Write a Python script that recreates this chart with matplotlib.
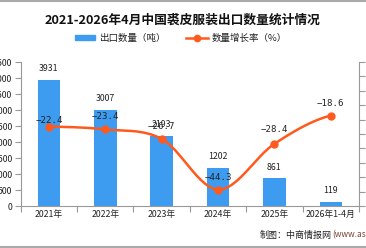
import numpy as np
import matplotlib
matplotlib.use("Agg")
import matplotlib.pyplot as plt
from matplotlib.patches import Rectangle
from matplotlib.lines import Line2D

plt.rcParams['font.family'] = ['Noto Sans CJK SC', 'DejaVu Sans']

categories = ["2021年", "2022年", "2023年", "2024年", "2025年", "2026年1-4月"]
export_qty = [3931, 3007, 2193, 1202, 861, 119]
growth_rate = [-22.4, -23.4, -26.7, -44.3, -28.4, -18.6]
title = "2021-2026年4月中国裘皮服装出口数量统计情况"
legend_bar = "出口数量（吨）"
legend_line = "数量增长率（%）"
source_a = "制图：中商情报网"
source_b = "(www.askci.com)"

W, H = 366, 248
fig = plt.figure(figsize=(W / 100, H / 100), dpi=100)

BAR_C = '#3d9cf0'
LINE_C = '#ff5a1e'
AX_C = '#999999'
TXT_C = '#222222'

ax = fig.add_axes([20.7 / W, (H - 206) / H, 338.3 / W, 144 / H])
x = np.arange(len(categories))
ax.bar(x, export_qty, width=0.4, color=BAR_C, zorder=2)
ax.set_xlim(-0.5, len(categories) - 0.5)
ax.set_ylim(0, 4500)
ax.set_yticks(np.arange(0, 4501, 500))
ax.set_xticks(np.arange(-0.5, len(categories), 1.0))
ax.set_xticklabels([])
ax.set_xticks(x, minor=True)
ax.set_xticklabels(categories, minor=True, fontsize=6.3, color=TXT_C)
ax.tick_params(axis='x', which='major', length=4, direction='out', color=AX_C)
ax.tick_params(axis='x', which='minor', length=0, pad=3)
ax.tick_params(axis='y', length=4, color=AX_C, labelsize=6.3, labelcolor=TXT_C, pad=2)
for s in ['top', 'right']:
    ax.spines[s].set_visible(False)
for s in ['left', 'bottom']:
    ax.spines[s].set_color(AX_C)
    ax.spines[s].set_linewidth(0.8)

for xi, v in zip(x, export_qty):
    ax.annotate(str(v), (xi, v), xytext=(0, 5), textcoords='offset points',
                ha='center', va='bottom', fontsize=6.3, color=TXT_C)

ax2 = ax.twinx()
ax2.set_ylim(-50, 0)
ax2.set_yticks(np.arange(-50, 1, 5))
ax2.set_yticklabels([])
ax2.tick_params(axis='y', length=4, color=AX_C)
for s in ['top', 'left', 'bottom']:
    ax2.spines[s].set_visible(False)
ax2.spines['right'].set_color(AX_C)
ax2.spines['right'].set_linewidth(0.8)

# smooth curve (Catmull-Rom through the data points)
p = np.array(growth_rate, dtype=float)
px = x.astype(float)
xs, ys = [], []
n = len(p)
for i in range(n - 1):
    p0 = p[i - 1] if i > 0 else p[i]
    p1, p2 = p[i], p[i + 1]
    p3 = p[i + 2] if i + 2 < n else p[i + 1]
    t = np.linspace(0, 1, 30)
    yy = 0.5 * ((2 * p1) + (-p0 + p2) * t + (2 * p0 - 5 * p1 + 4 * p2 - p3) * t ** 2
                + (-p0 + 3 * p1 - 3 * p2 + p3) * t ** 3)
    xs.extend(px[i] + t)
    ys.extend(yy)
ax2.plot(xs, ys, color=LINE_C, lw=1.8, zorder=3, solid_capstyle='round')
ax2.plot(px, p, 'o', color=LINE_C, ms=5, zorder=4)
label_off = [4, 9, 9, 9, 10, 9]
for xi, v, off in zip(px, p, label_off):
    ax2.annotate(f"{v:.1f}".replace('-', '−'), (xi, v), xytext=(0, off), textcoords='offset points',
                 ha='center', va='center', fontsize=6.6, color=TXT_C, family='DejaVu Sans Mono')

# title
fig.text(0.5, 1 - 20.5 / H, title, ha='center', va='center', fontsize=9.2,
         fontweight='bold', color='#111111')

# legend
fig.patches.append(Rectangle((75 / W, 1 - 40 / H), 20 / W, 5 / H, transform=fig.transFigure,
                             color=BAR_C))
fig.text(99 / W, 1 - 38 / H, legend_bar, ha='left', va='center', fontsize=6.8, color=TXT_C)
fig.lines.append(Line2D([186 / W, 208 / W], [1 - 38 / H, 1 - 38 / H], transform=fig.transFigure,
                        color=LINE_C, lw=1.8))
fig.lines.append(Line2D([197 / W], [1 - 38 / H], transform=fig.transFigure, marker='o',
                        color=LINE_C, ms=4.5))
fig.text(212 / W, 1 - 38 / H, legend_line, ha='left', va='center', fontsize=6.8, color=TXT_C)

# source
t1 = fig.text(260 / W, 1 - 235 / H, source_a, ha='left', va='center', fontsize=6.5, color='#222222')
fig.canvas.draw()
bb = t1.get_window_extent()
fig.text(bb.x1 / W, 1 - 235 / H, source_b, ha='left', va='center', fontsize=6.0, color='#7a4030')

# frame lines top & bottom
fig.lines.append(Line2D([0, 1], [1 - 0.5 / H, 1 - 0.5 / H], transform=fig.transFigure,
                        color='#aaaaaa', lw=1.5))
fig.lines.append(Line2D([0, 1], [1 - 246.5 / H, 1 - 246.5 / H], transform=fig.transFigure,
                        color='#aaaaaa', lw=1.5))

fig.savefig('out.png', dpi=100)
